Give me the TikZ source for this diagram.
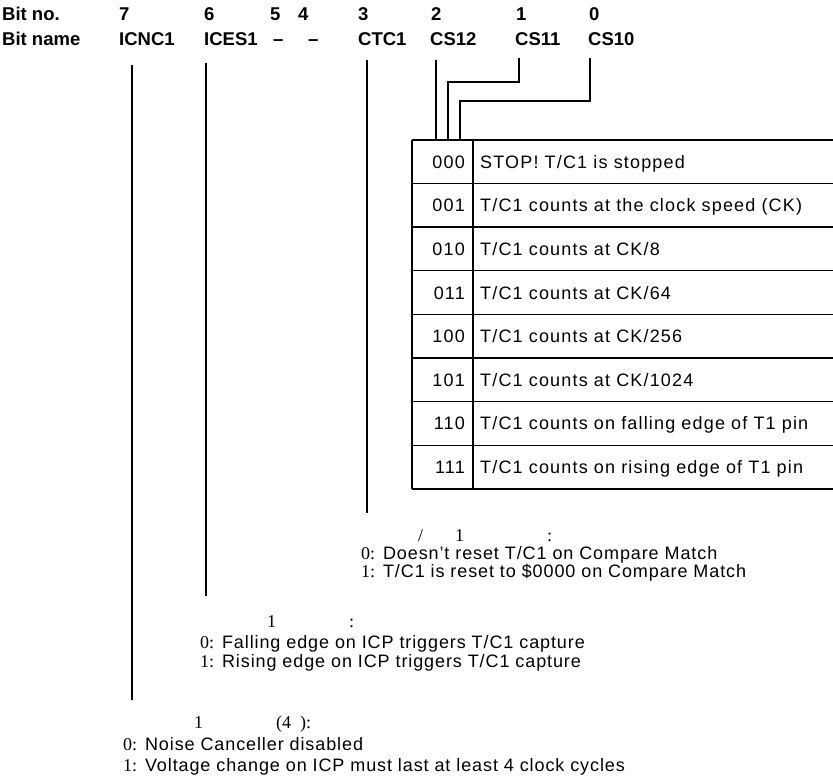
\documentclass[tikz,border=0pt]{standalone}
\usepackage{fontspec}
\setmainfont{Liberation Sans}[LetterSpace=5]
\newfontfamily\hdfont{Liberation Sans}
\newfontfamily\srfont{Liberation Serif}
\newfontfamily\tabfont{Liberation Sans}[LetterSpace=6.5]
\begin{document}
\begin{tikzpicture}[x=1pt,y=-1pt,
  hdr/.style={anchor=base west,inner sep=0pt,font=\hdfont\bfseries\fontsize{18.5}{20}\selectfont},
  txt/.style={anchor=base west,inner sep=0pt,font=\fontsize{18}{20}\selectfont},
  tabtxt/.style={anchor=base west,inner sep=0pt,font=\tabfont\fontsize{18}{20}\selectfont},
  code/.style={anchor=base east,inner sep=0pt,font=\tabfont\fontsize{18}{20}\selectfont},
  frag/.style={anchor=base west,inner sep=0pt,font=\srfont\fontsize{18}{20}\selectfont},
  wire/.style={line width=1.3pt},
  grid/.style={line width=1.4pt}]
\useasboundingbox (0,0) rectangle (833,778);
% header
\node[hdr] (bitno) at (2,21) {Bit no.};
\node[hdr] (bitname) at (2,46) {Bit name};
\node[hdr] (n7) at (119,21) {7};
\node[hdr] (b7) at (119,46) {ICNC1};
\node[hdr] (n6) at (204,21) {6};
\node[hdr] (b6) at (204,46) {ICES1};
\node[hdr] (n5) at (270,21) {5};
\node[hdr] (b5) at (273,46) {–};
\node[hdr] (n4) at (298,21) {4};
\node[hdr] (b4) at (308,46) {–};
\node[hdr] (n3) at (358,21) {3};
\node[hdr] (b3) at (358,46) {CTC1};
\node[hdr] (n2) at (431,21) {2};
\node[hdr] (b2) at (430,46) {CS12};
\node[hdr] (n1) at (516,21) {1};
\node[hdr] (b1) at (515,46) {CS11};
\node[hdr] (n0) at (589,21) {0};
\node[hdr] (b0) at (588,46) {CS10};
% table
\foreach \k/\c/\d in {0/000/{STOP! T/C1 is stopped},
  1/001/{T/C1 counts at the clock speed (CK)},
  2/010/{T/C1 counts at CK/8},
  3/011/{T/C1 counts at CK/64},
  4/100/{T/C1 counts at CK/256},
  5/101/{T/C1 counts at CK/1024},
  6/110/{T/C1 counts on falling edge of T1 pin},
  7/111/{T/C1 counts on rising edge of T1 pin}}{
  \node[code] (c\k) at (465,{140+43.6*\k+21.8+6.5}) {\c};
  \node[tabtxt] (d\k) at (480,{140+43.6*\k+21.8+6.5}) {\d};
  \draw[grid] (412,{140+43.6*\k}) -- (833,{140+43.6*\k});
}
\draw[grid] (412,489) -- (833,489);
\draw[grid] (412,140) -- (412,489);
\draw[grid] (473,140) -- (473,489);
\coordinate (t2) at (436,140);
\coordinate (t1) at (448,140);
\coordinate (t0) at (460,140);
% wires
\coordinate (e7) at (132,700);
\coordinate (e6) at (206,596);
\coordinate (e3) at (367,513);
\draw[wire] (b7.south -| e7) ++(0,19) -- (e7);
\draw[wire] (b6.south -| e6) ++(0,17) -- (e6);
\draw[wire] (b3.south -| e3) ++(0,14) -- (e3);
\draw[wire] (b2.south -| t2) ++(0,14) -- (t2);
\draw[wire] (b1.south -| 519,0) ++(0,12) |- (448,82) -- (t1);
\draw[wire] (b0.south -| 590,0) ++(0,12) |- (460,101) -- (t0);
% CTC1 block
\node[frag] (h3a) at (418,541) {/};
\node[frag] (h3b) at (455,541) {1};
\node[frag] (h3c) at (547,541) {:};
\node[txt] (l3a) at (361,559) {{\srfont 0:} Doesn’t reset T/C1 on Compare Match};
\node[txt] (l3b) at (361,577) {{\srfont 1:} T/C1 is reset to \$0000 on Compare Match};
% ICES1 block
\node[frag] (h6a) at (267,627) {1};
\node[frag] (h6b) at (349,627) {:};
\node[txt] (l6a) at (200,648) {{\srfont 0:} Falling edge on ICP triggers T/C1 capture};
\node[txt] (l6b) at (200,667) {{\srfont 1:} Rising edge on ICP triggers T/C1 capture};
% ICNC1 block
\node[frag] (h7a) at (194,728) {1};
\node[frag] (h7b) at (276,728) {(4\hspace{9pt}):};
\node[txt] (l7a) at (123,750) {{\srfont 0:} Noise Canceller disabled};
\node[txt] (l7b) at (123,771) {{\srfont 1:} Voltage change on ICP must last at least 4 clock cycles};
\end{tikzpicture}
\end{document}
